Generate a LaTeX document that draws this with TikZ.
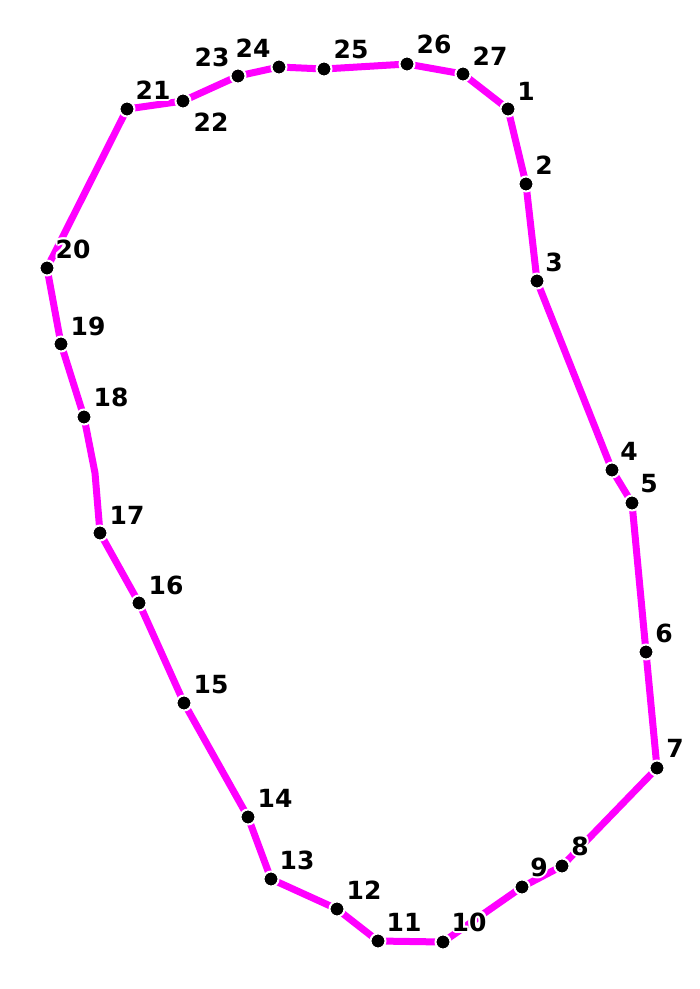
\documentclass[tikz,border=0pt]{standalone}
\usepackage{fontspec}
\setmainfont{DejaVu Sans}
\usetikzlibrary{calc}
\definecolor{mag}{RGB}{255,0,255}
\tikzset{
  dotnode/.style={circle,fill=black,draw=white,line width=2pt,minimum size=15pt,inner sep=0pt},
  pathline/.style={draw=mag,line width=7pt,line join=round},
  lbl/.style={font=\bfseries\fontsize{25}{25}\selectfont,inner sep=0pt,text=black},
  lblhalo/.style={font=\bfseries\fontsize{25}{25}\selectfont,inner sep=0pt,text=white}
}
\newcommand{\hlabel}[3]{%
  \foreach \dx/\dy in {2/0,-2/0,0/2,0/-2,1.5/1.5,1.5/-1.5,-1.5/1.5,-1.5/-1.5}{
    \node[lblhalo] at ($(#2)+(\dx,\dy)$) {#3};
  }
  \node[lbl] (#1) at (#2) {#3};
}
\begin{document}
\begin{tikzpicture}[x=1pt,y=-1pt]
\useasboundingbox[fill=white] (0,0) rectangle (700,989);
\coordinate (c1) at (508,109);
\coordinate (c2) at (526,184);
\coordinate (c3) at (537,281);
\coordinate (c4) at (612,470);
\coordinate (c5) at (632,503);
\coordinate (c6) at (646,652);
\coordinate (c7) at (657,768);
\coordinate (c8) at (562,866);
\coordinate (c9) at (522,887);
\coordinate (c10) at (443,942);
\coordinate (c11) at (378,941);
\coordinate (c12) at (337,909);
\coordinate (c13) at (271,879);
\coordinate (c14) at (248,817);
\coordinate (c15) at (184,703);
\coordinate (c16) at (139,603);
\coordinate (c17) at (100,533);
\coordinate (b17) at (95,473);
\coordinate (c18) at (84,417);
\coordinate (c19) at (61,344);
\coordinate (c20) at (47,268);
\coordinate (c21) at (127,109);
\coordinate (c22) at (183,101);
\coordinate (c23) at (238,76);
\coordinate (c24) at (279,67);
\coordinate (c25) at (324,69);
\coordinate (c26) at (407,64);
\coordinate (c27) at (463,74);
\path[pathline] (c1) -- (c2) -- (c3) -- (c4) -- (c5) -- (c6) -- (c7) -- (c8) -- (c9) -- (c10) -- (c11) -- (c12) -- (c13) -- (c14) -- (c15) -- (c16) -- (c17) -- (b17) -- (c18) -- (c19) -- (c20) -- (c21) -- (c22) -- (c23) -- (c24) -- (c25) -- (c26) -- (c27) -- cycle;
\foreach \i in {1,...,27}{\node[dotnode] (p\i) at (c\i) {};}
\coordinate (t1) at (526,91);
\coordinate (t2) at (544,165);
\coordinate (t3) at (554,262);
\coordinate (t4) at (629,451);
\coordinate (t5) at (649,484);
\coordinate (t6) at (664,633);
\coordinate (t7) at (675,748);
\coordinate (t8) at (580,846);
\coordinate (t9) at (539,867);
\coordinate (t10) at (469,922);
\coordinate (t11) at (404,922);
\coordinate (t12) at (364,890);
\coordinate (t13) at (297,860);
\coordinate (t14) at (275,798);
\coordinate (t15) at (211,685);
\coordinate (t16) at (166,585);
\coordinate (t17) at (127,515);
\coordinate (t18) at (111,397);
\coordinate (t19) at (88,326);
\coordinate (t20) at (73,249);
\coordinate (t21) at (153,90);
\coordinate (t22) at (211,122);
\coordinate (t23) at (212,57);
\coordinate (t24) at (253,48);
\coordinate (t25) at (351,49);
\coordinate (t26) at (434,44);
\coordinate (t27) at (490,56);
\foreach \i in {1,...,27}{\hlabel{l\i}{t\i}{\i}}
\end{tikzpicture}
\end{document}
